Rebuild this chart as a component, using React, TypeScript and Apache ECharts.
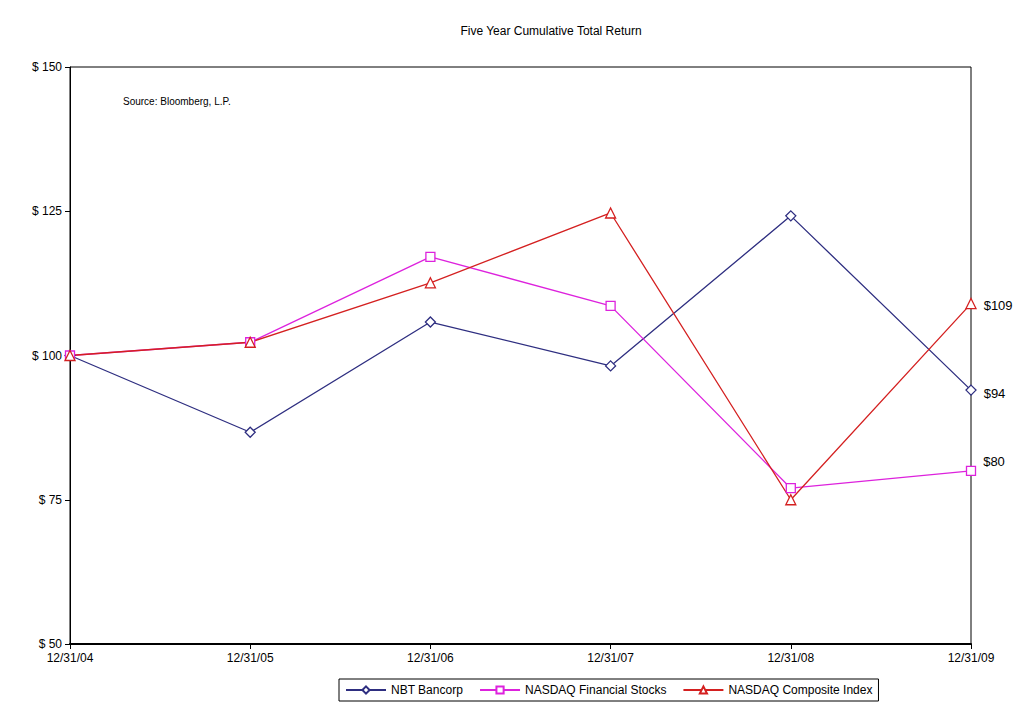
import React, { useEffect, useRef } from "react";
import * as echarts from "echarts";

const categories = ["12/31/04", "12/31/05", "12/31/06", "12/31/07", "12/31/08", "12/31/09"];
const nbtBancorp = [100, 86.7, 105.8, 98.2, 124.2, 94];
const nasdaqFinancial = [100, 102.3, 117.1, 108.6, 77.0, 80];
const nasdaqComposite = [100, 102.3, 112.6, 124.7, 75, 109];
const endLabels = ["$94", "$80", "$109"];
const yTicks = [50, 75, 100, 125, 150];

const FONT = "'Liberation Sans', Arial, sans-serif";

export default function App() {
  const ref = useRef<HTMLDivElement>(null);
  useEffect(() => {
    if (!ref.current) return;
    const chart = echarts.init(ref.current, null, { renderer: "svg" });
    const last = categories.length - 1;
    const mk = (vals: number[], lab: string, offY: number) =>
      vals.map((v, i) =>
        i === last
          ? {
              value: v,
              label: {
                show: true,
                position: "right",
                formatter: lab,
                offset: [2, offY],
                color: "#000",
                fontSize: 13,
                fontFamily: FONT,
              },
            }
          : v
      );
    chart.setOption({
      animation: false,
      title: {
        text: "Five Year Cumulative Total Return",
        left: 546,
        top: 20,
        textAlign: "center",
        textStyle: { fontSize: 12, fontWeight: "normal", color: "#000", fontFamily: FONT },
      },
      graphic: [
        {
          type: "text",
          left: 123,
          top: 96,
          style: { text: "Source: Bloomberg, L.P.", fontSize: 10, fill: "#000", fontFamily: FONT },
        },
      ],
      legend: {
        top: 679,
        left: 339,
        itemWidth: 40,
        itemHeight: 9,
        itemGap: 16,
        borderColor: "#000",
        borderWidth: 1,
        padding: [5, 6],
        borderRadius: 0,
        textStyle: { fontSize: 12, color: "#000", fontFamily: FONT },
        data: ["NBT Bancorp", "NASDAQ Financial Stocks", "NASDAQ Composite Index"],
      },
      grid: {
        left: 70,
        right: 57,
        top: 67,
        bottom: 81,
        show: true,
        borderColor: "#000",
        borderWidth: 1,
      },
      xAxis: {
        type: "category",
        data: categories,
        boundaryGap: false,
        axisLine: { lineStyle: { color: "#000", width: 2 } },
        axisTick: { show: true, length: 5, lineStyle: { color: "#000" } },
        axisLabel: { color: "#000", fontSize: 12, fontFamily: FONT, margin: 8 },
        splitLine: { show: false },
      },
      yAxis: {
        type: "value",
        min: yTicks[0],
        max: yTicks[yTicks.length - 1],
        interval: 25,
        axisLine: { show: true, lineStyle: { color: "#000", width: 1 } },
        axisTick: { show: true, length: 5, lineStyle: { color: "#000" } },
        axisLabel: { color: "#000", fontSize: 12, fontFamily: FONT, formatter: "$ {value}", margin: 8 },
        splitLine: { show: false },
      },
      series: [
        {
          name: "NBT Bancorp",
          type: "line",
          data: mk(nbtBancorp, endLabels[0], 3),
          symbol: "diamond",
          symbolSize: 10,
          lineStyle: { color: "#2E2E80", width: 1.3 },
          itemStyle: { color: "#fff", borderColor: "#2E2E80", borderWidth: 1.3 },
          color: "#2E2E80",
        },
        {
          name: "NASDAQ Financial Stocks",
          type: "line",
          data: mk(nasdaqFinancial, endLabels[1], -9),
          symbol: "rect",
          symbolSize: 9,
          lineStyle: { color: "#DD22DD", width: 1.3 },
          itemStyle: { color: "#fff", borderColor: "#DD22DD", borderWidth: 1.3 },
          color: "#DD22DD",
        },
        {
          name: "NASDAQ Composite Index",
          type: "line",
          data: mk(nasdaqComposite, endLabels[2], 2),
          symbol: "triangle",
          symbolSize: 10,
          lineStyle: { color: "#D42020", width: 1.3 },
          itemStyle: { color: "#fff", borderColor: "#D42020", borderWidth: 1.3 },
          color: "#D42020",
        },
      ],
    });
    return () => chart.dispose();
  }, []);
  return <div ref={ref} style={{ width: 1028, height: 725, margin: -8 }} />;
}
